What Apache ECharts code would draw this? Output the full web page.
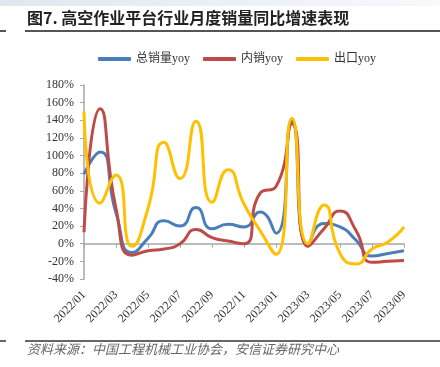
<!DOCTYPE html>
<html>
<head>
<meta charset="utf-8">
<script src="https://cdn.jsdelivr.net/npm/echarts@6/dist/echarts.min.js"></script>
<style>
  html, body { margin: 0; padding: 0; background: #fff; }
  #chart { width: 440px; height: 367px; }
</style>
</head>
<body>
<div id="chart"></div>
<script>
// 月份
const months = [
  "2022/01", "2022/02", "2022/03", "2022/04", "2022/05", "2022/06", "2022/07",
  "2022/08", "2022/09", "2022/10", "2022/11", "2022/12", "2023/01", "2023/02",
  "2023/03", "2023/04", "2023/05", "2023/06", "2023/07", "2023/08", "2023/09"
];
// 总销量yoy (%)
const totalYoy = [79, 104, 35, -10, 6, 26, 20, 41, 17, 22, 19, 36, 12, 139, -1, 23, 19, 4, -14, -11, -8];
// 内销yoy (%)
const domesticYoy = [13, 153, 40, -13, -8, -6, 0, 16, 7, 3, 0, 57, 65, 136, -3, 17, 37, 15, -21, -20, -19];
// 出口yoy (%)
const exportYoy = [150, 46, 78, -3, 40, 115, 74, 139, 47, 84, 45, 15, -12, 142, 0, 44, -11, -23, -6, 2, 19];

const serif = "'Liberation Serif', 'Noto Sans CJK SC', serif";

const chart = echarts.init(document.getElementById("chart"));

const option = {
  animation: false,
  graphic: [
    {
      type: "rect",
      shape: { x: 0, y: 0, width: 440, height: 6 },
      style: {
        fill: new echarts.graphic.LinearGradient(0, 0, 1, 0, [
          { offset: 0, color: "#dfe7f1" },
          { offset: 1, color: "#f7f9fc" },
        ]),
      },
    },
    {
      type: "text",
      left: 27,
      top: 10,
      style: {
        text: "图7. 高空作业平台行业月度销量同比增速表现",
        font: "bold 16px 'Noto Sans CJK SC'",
        fill: "#222",
      },
    },
    { type: "line", shape: { x1: 25, y1: 31, x2: 440, y2: 31 }, style: { stroke: "#555", lineWidth: 2 } },
    { type: "line", shape: { x1: 0, y1: 31, x2: 6, y2: 31 }, style: { stroke: "#555", lineWidth: 2 } },
    { type: "line", shape: { x1: 25, y1: 341, x2: 440, y2: 341 }, style: { stroke: "#333", lineWidth: 1.5 } },
    { type: "line", shape: { x1: 0, y1: 341, x2: 6, y2: 341 }, style: { stroke: "#333", lineWidth: 1.5 } },
    {
      type: "text",
      left: 27,
      top: 343,
      style: {
        text: "资料来源：中国工程机械工业协会，安信证券研究中心",
        font: "italic 13px 'Noto Sans CJK SC'",
        fill: "#666",
      },
    },
  ],
  legend: {
    left: 93,
    top: 48,
    itemWidth: 33,
    itemHeight: 4,
    itemGap: 13,
    icon: "roundRect",
    textStyle: { fontFamily: serif, fontSize: 12, color: "#333" },
    data: ["总销量yoy", "内销yoy", "出口yoy"],
  },
  grid: { left: 84, right: 36, top: 85, bottom: 88 },
  xAxis: [
    {
      type: "category",
      data: months,
      boundaryGap: false,
      position: "bottom",
      axisLine: { show: false, onZero: false },
      axisTick: { show: false },
      axisLabel: {
        interval: 1,
        rotate: 45,
        margin: 14,
        fontFamily: serif,
        fontSize: 12,
        color: "#333",
      },
    },
    {
      type: "category",
      data: months,
      boundaryGap: false,
      position: "bottom",
      axisLine: { show: true, onZero: true, lineStyle: { color: "#a6a6a6", width: 1.5 } },
      axisTick: { show: true, interval: 1, length: 4, lineStyle: { color: "#a6a6a6" } },
      axisLabel: { show: false },
    },
  ],
  yAxis: {
    type: "value",
    min: -40,
    max: 180,
    interval: 20,
    axisLine: { show: true, lineStyle: { color: "#a6a6a6", width: 1.5 } },
    axisTick: { show: true, length: 4, lineStyle: { color: "#a6a6a6" } },
    splitLine: { show: false },
    axisLabel: {
      formatter: "{value}%",
      margin: 10,
      fontFamily: serif,
      fontSize: 12,
      color: "#333",
    },
  },
  series: [
    {
      name: "总销量yoy",
      type: "line",
      data: totalYoy,
      smooth: 0.6,
      symbol: "none",
      itemStyle: { color: "#4a7ebb" },
      lineStyle: { width: 3 },
    },
    {
      name: "内销yoy",
      type: "line",
      data: domesticYoy,
      smooth: 0.6,
      symbol: "none",
      itemStyle: { color: "#be4b48" },
      lineStyle: { width: 3 },
    },
    {
      name: "出口yoy",
      type: "line",
      data: exportYoy,
      smooth: 0.6,
      symbol: "none",
      itemStyle: { color: "#ffc000" },
      lineStyle: { width: 3 },
    },
  ],
};

chart.setOption(option);
</script>
</body>
</html>
